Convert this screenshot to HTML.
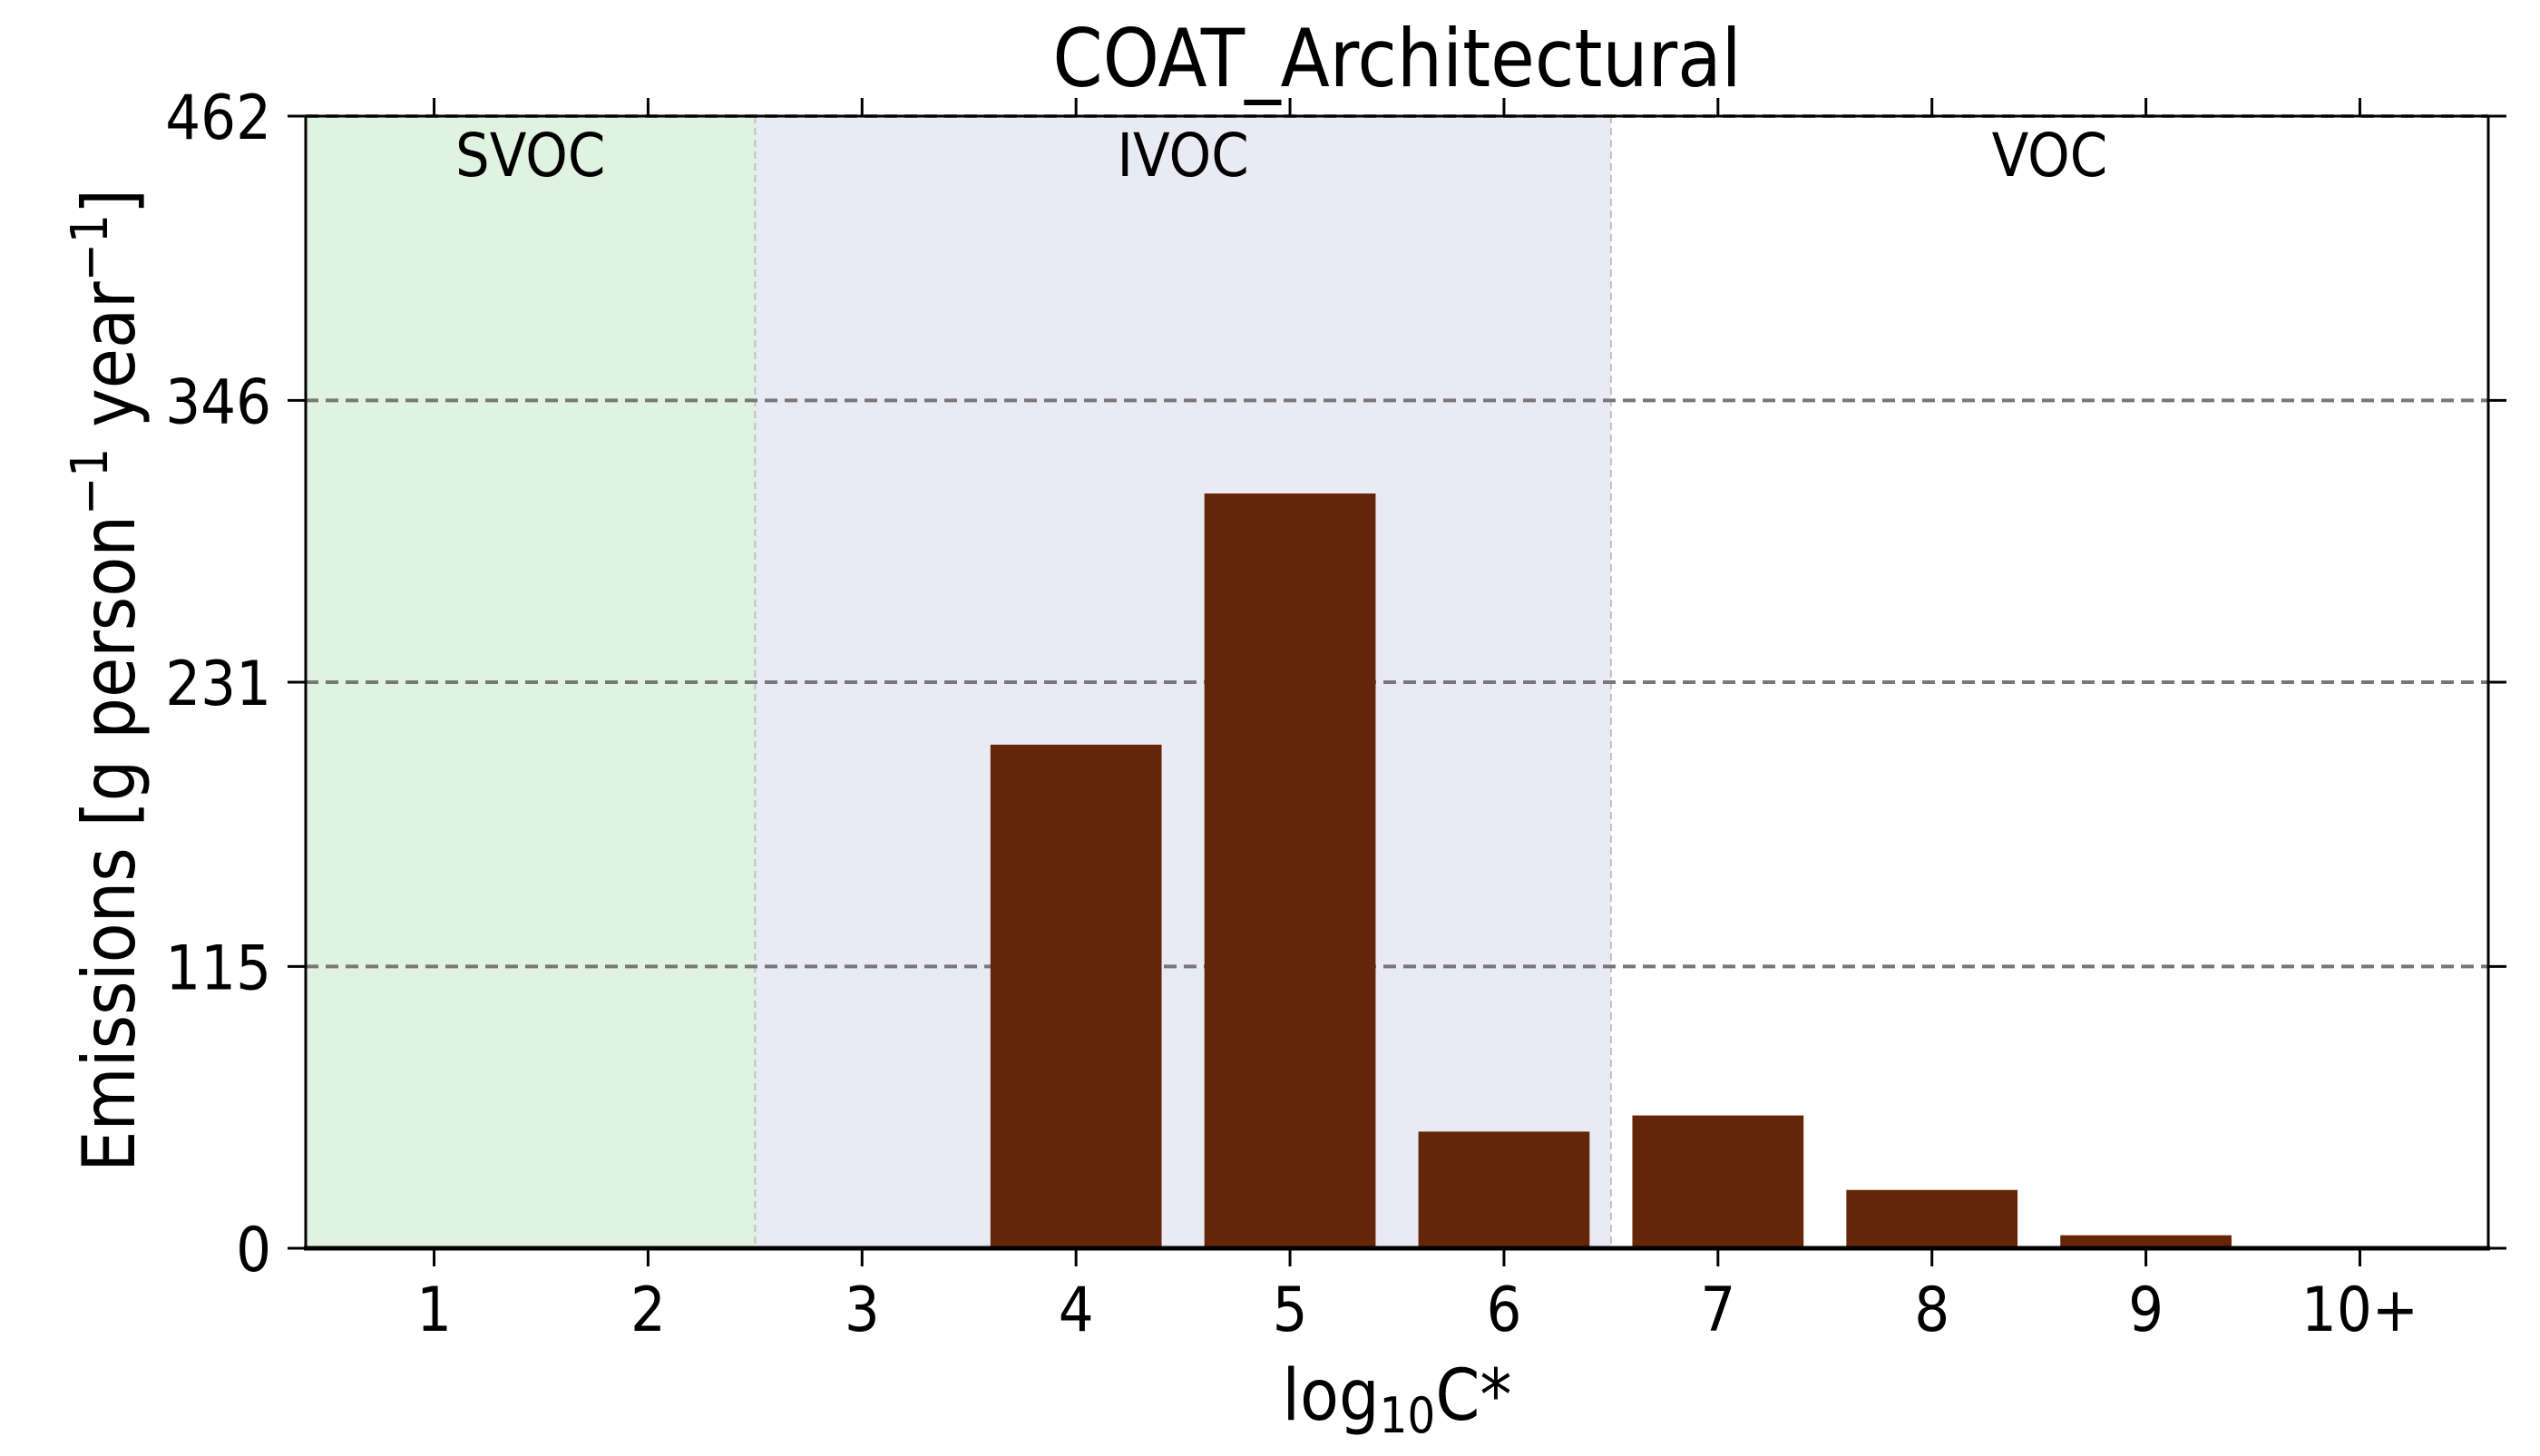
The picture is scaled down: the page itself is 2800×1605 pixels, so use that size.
<!DOCTYPE html>
<html><head><meta charset="utf-8"><style>
html,body{margin:0;padding:0;background:#fff;}
svg text{font-family:"DejaVu Sans","Liberation Sans",sans-serif;font-stretch:condensed;fill:#000;}
</style></head><body>
<svg id="chart" width="2800" height="1600" viewBox="0 0 2800 1600" xmlns="http://www.w3.org/2000/svg">
<g id="regions"></g><g id="grid"></g><g id="bars"></g><g id="axes"></g><g id="labels"></g>
</svg>
<script>
const categories = ["1","2","3","4","5","6","7","8","9","10+"];
const values = [0, 0, 0, 205.5, 308, 47.6, 54.2, 23.8, 5.3, 0];
const yTicks = [0, 115, 231, 346, 462];
const regionNames = ["SVOC","IVOC","VOC"];
const regionBounds = [[0.4,2.5],[2.5,6.5],[6.5,10.6]];

const NS = "http://www.w3.org/2000/svg";
const L=337, R=2743, T=128, B=1376;
const xMin=0.4, xMax=10.6, yMax=462;
const xs = v => L + (v - xMin)/(xMax-xMin)*(R-L);
const ys = v => B - v/yMax*(B-T);
function mk(tag, attrs, parent, text){
  const e=document.createElementNS(NS,tag);
  for(const k in attrs) e.setAttribute(k,attrs[k]);
  if(text!==undefined) e.textContent=text;
  document.getElementById(parent).appendChild(e); return e;
}
const fills=["#e0f2e0","#eaeaf4","#ffffff"];
regionBounds.forEach((b,i)=>{
  const r=mk("rect",{x:xs(b[0]),y:T,width:xs(b[1])-xs(b[0]),height:B-T,fill:fills[i]},"regions");
  
  
  const t=mk("text",{x:(xs(b[0])+xs(b[1]))/2,y:194,"font-size":66,"text-anchor":"middle"},"labels",regionNames[i]);
  
  
});
[2.5,6.5].forEach(v=>{
  const l=mk("line",{x1:xs(v),x2:xs(v),y1:T,y2:B,stroke:"#c0c0c0","stroke-width":2,"stroke-dasharray":"8,5"},"grid");
  
  
});
yTicks.forEach(v=>{
  if(v>0){
    const g=mk("line",{x1:L,x2:R,y1:ys(v),y2:ys(v),stroke:"#777","stroke-width":4,"stroke-dasharray":"14,8"},"grid");
    
    
  }
  mk("line",{x1:L-20,x2:L,y1:ys(v),y2:ys(v),stroke:"#000","stroke-width":3},"axes");
  mk("line",{x1:R,x2:R+20,y1:ys(v),y2:ys(v),stroke:"#000","stroke-width":3},"axes");
  const t=mk("text",{x:L-38,y:ys(v)+25,"font-size":68,"text-anchor":"end"},"labels",String(v));
  
  
});
categories.forEach((c,i)=>{
  const x=xs(i+1);
  const h=B-ys(values[i]);
  const b=mk("rect",{x:xs(i+1-0.4),y:ys(values[i]),width:xs(i+1.4)-xs(i+0.6),height:h,fill:"#652508"},"bars");
  
  
  mk("line",{x1:x,x2:x,y1:B,y2:B+20,stroke:"#000","stroke-width":3},"axes");
  mk("line",{x1:x,x2:x,y1:T,y2:T-20,stroke:"#000","stroke-width":3},"axes");
  const t=mk("text",{x:x,y:1467,"font-size":68,"text-anchor":"middle"},"labels",c);
  
  
});
const f=mk("rect",{x:L,y:T,width:R-L,height:B-T,fill:"none",stroke:"#000","stroke-width":3},"axes");


mk("line",{x1:L-2,x2:R+2,y1:B,y2:B,stroke:"#000","stroke-width":5},"axes");
</script>
<svg style="position:absolute;left:0;top:0" width="2800" height="1600">
<text x="1540" y="95" font-size="88" text-anchor="middle">COAT_Architectural</text>
<text x="1540" y="1565" font-size="78" text-anchor="middle">log<tspan font-size="54" dy="14">10</tspan><tspan dy="-14">C*</tspan></text>
<text transform="translate(148,750) rotate(-90)" font-size="80" text-anchor="middle">Emissions [g person<tspan font-size="56" dy="-30">−1</tspan><tspan dy="30"> year</tspan><tspan font-size="56" dy="-30">−1</tspan><tspan dy="30">]</tspan></text>
</svg>
</body></html>
